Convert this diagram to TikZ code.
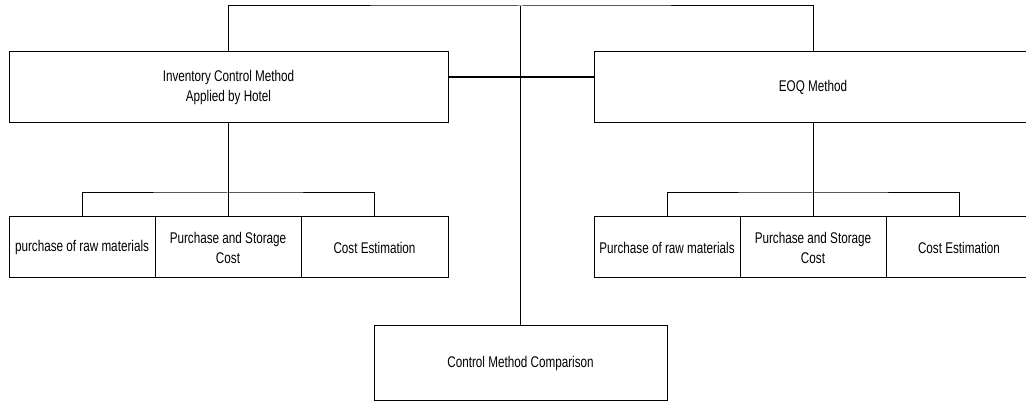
\documentclass[tikz,border=0pt]{standalone}
\usepackage{fontspec}
\setmainfont{Liberation Sans}[FakeStretch=0.755]
\begin{document}
\begin{tikzpicture}[x=1pt,y=-1pt,
  box/.style={draw,line width=1pt,inner sep=0pt,align=center,font=\fontsize{15.5}{20}\selectfont},
  bigbox/.style={box,minimum height=71pt},
  smallbox/.style={box,minimum width=146pt,minimum height=61pt},
  conn/.style={line width=1pt},
  thickconn/.style={line width=2pt}]
\useasboundingbox (0,0) rectangle (1026,403);
% main boxes
\node[bigbox,minimum width=439pt] (ich) at (228.5,87.5) {Inventory Control Method\\Applied by Hotel};
\node[bigbox,minimum width=438pt] (eoq) at (813,87.5) {EOQ Method};
% left sub boxes
\node[smallbox] (l1) at (82,247.5) {purchase of raw materials};
\node[smallbox] (l2) at (228,247.5) {Purchase and Storage\\Cost};
\node[smallbox,minimum width=147pt] (l3) at (374.5,247.5) {Cost Estimation};
% right sub boxes
\node[smallbox] (r1) at (667,247.5) {Purchase of raw materials};
\node[smallbox] (r2) at (813,247.5) {Purchase and Storage\\Cost};
\node[smallbox] (r3) at (959,247.5) {Cost Estimation};
% comparison
\node[box,minimum width=293pt,minimum height=75pt] (cmp) at (520.5,363.5) {Control Method Comparison};
% junctions
\coordinate (top) at (520.5,6);
\coordinate (hy) at (0,77);
\coordinate (lj) at (228,193);
\coordinate (rj) at (813,193);
% connectors
\draw[conn] (ich.north) |- (top) -| (eoq.north);
\draw[conn] (top) -- (cmp.north);
\draw[thickconn] (ich.east |- hy) -- (eoq.west |- hy);
\draw[conn] (ich.south -| lj) -- (lj);
\draw[conn] (l1.north) |- (lj) -| (l3.north);
\draw[conn] (lj) -- (l2.north);
\draw[conn] (eoq.south -| rj) -- (rj);
\draw[conn] (r1.north) |- (rj) -| (r3.north);
\draw[conn] (rj) -- (r2.north);
\end{tikzpicture}
\end{document}
